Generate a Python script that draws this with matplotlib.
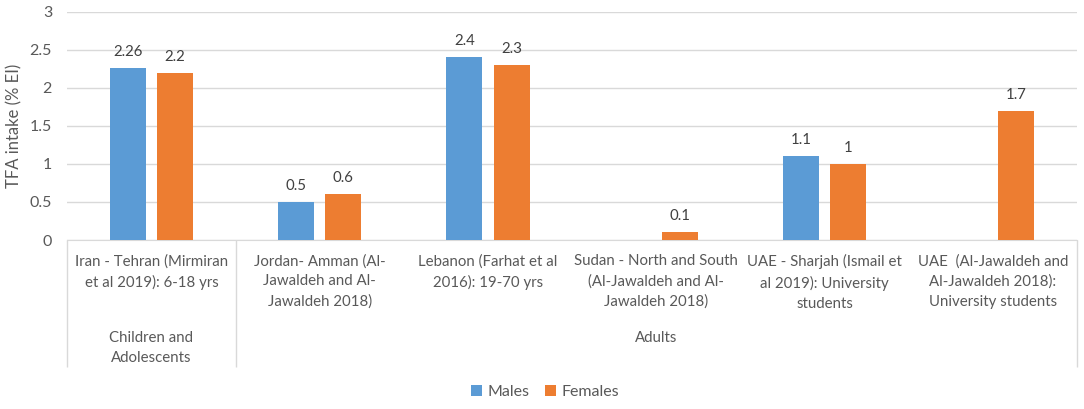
import matplotlib
matplotlib.use("Agg")
import matplotlib.pyplot as plt
import numpy as np

# data
categories = [
    "Iran - Tehran (Mirmiran\net al 2019): 6-18 yrs",
    "Jordan- Amman (Al-\nJawaldeh and Al-\nJawaldeh 2018)",
    "Lebanon (Farhat et al\n2016): 19-70 yrs",
    "Sudan - North and South\n(Al-Jawaldeh and Al-\nJawaldeh 2018)",
    "UAE - Sharjah (Ismail et\nal 2019): University\nstudents",
    "UAE  (Al-Jawaldeh and\nAl-Jawaldeh 2018):\nUniversity students",
]
groups = ["Children and\nAdolescents", "Adults"]
group_sizes = [1, 5]
males = [2.26, 0.5, 2.4, None, 1.1, None]
females = [2.2, 0.6, 2.3, 0.1, 1.0, 1.7]
yticks = [0, 0.5, 1, 1.5, 2, 2.5, 3]

BLUE = "#5B9BD5"
ORANGE = "#ED7D31"
GRID = "#D9D9D9"
TXT = "#595959"

plt.rcParams["font.family"] = ["Lato", "DejaVu Sans"]

fig = plt.figure(figsize=(10.84, 4.09), dpi=100)
ax = fig.add_axes([0.0621, 0.4132, 0.9315, 0.5582])

x = np.arange(len(categories))
bw = 0.214
off = 0.14

def draw(vals, dx, color, label):
    xs = [xi + dx for xi, v in zip(x, vals) if v is not None]
    vs = [v for v in vals if v is not None]
    bars = ax.bar(xs, vs, width=bw, color=color, label=label, zorder=3)
    for b, v in zip(bars, vs):
        ax.annotate(f"{v:g}", (b.get_x() + b.get_width() / 2, v),
                    xytext=(0, 9), textcoords="offset pixels",
                    ha="center", va="bottom", fontsize=10.8, color="#404040")

draw(males, -off, BLUE, "Males")
draw(females, off, ORANGE, "Females")

ax.set_xlim(-0.5, len(categories) - 0.5)
ax.set_ylim(0, 3)
ax.set_yticks(yticks)
ax.set_yticklabels([f"{t:g}" for t in yticks])
ax.tick_params(axis="y", length=0, pad=11, labelsize=11.5, labelcolor=TXT)
ax.set_xticks([])
ax.grid(axis="y", color=GRID, linewidth=1, zorder=0)
for s in ["top", "right", "left"]:
    ax.spines[s].set_visible(False)
ax.spines["bottom"].set_color(GRID)
ax.set_ylabel("TFA intake (% EI)", fontsize=12, color=TXT, labelpad=5)

# category labels and group labels under the axis
xt = ax.get_xaxis_transform()
for xi, c in zip(x, categories):
    ax.annotate(c, (xi, 0), xycoords=xt, xytext=(0, -14),
                textcoords="offset pixels", ha="center", va="top",
                fontsize=10.8, color=TXT, linespacing=1.55)

start = -0.5
seps = [start]
for g, n in zip(groups, group_sizes):
    ax.annotate(g, (start + n / 2, 0), xycoords=xt, xytext=(0, -91),
                textcoords="offset pixels", ha="center", va="top",
                fontsize=10.8, color=TXT, linespacing=1.55)
    start += n
    seps.append(start)
ax.vlines(seps, -0.556, 0, transform=xt, colors=GRID, linewidth=1, clip_on=False)

fig.legend(loc="center", bbox_to_anchor=(0.503, 0.041), ncol=2, frameon=False,
           fontsize=11.5, handlelength=0.65, handleheight=0.65, handletextpad=0.35,
           columnspacing=1.0, labelcolor=TXT)

fig.savefig("out.png", dpi=100)
